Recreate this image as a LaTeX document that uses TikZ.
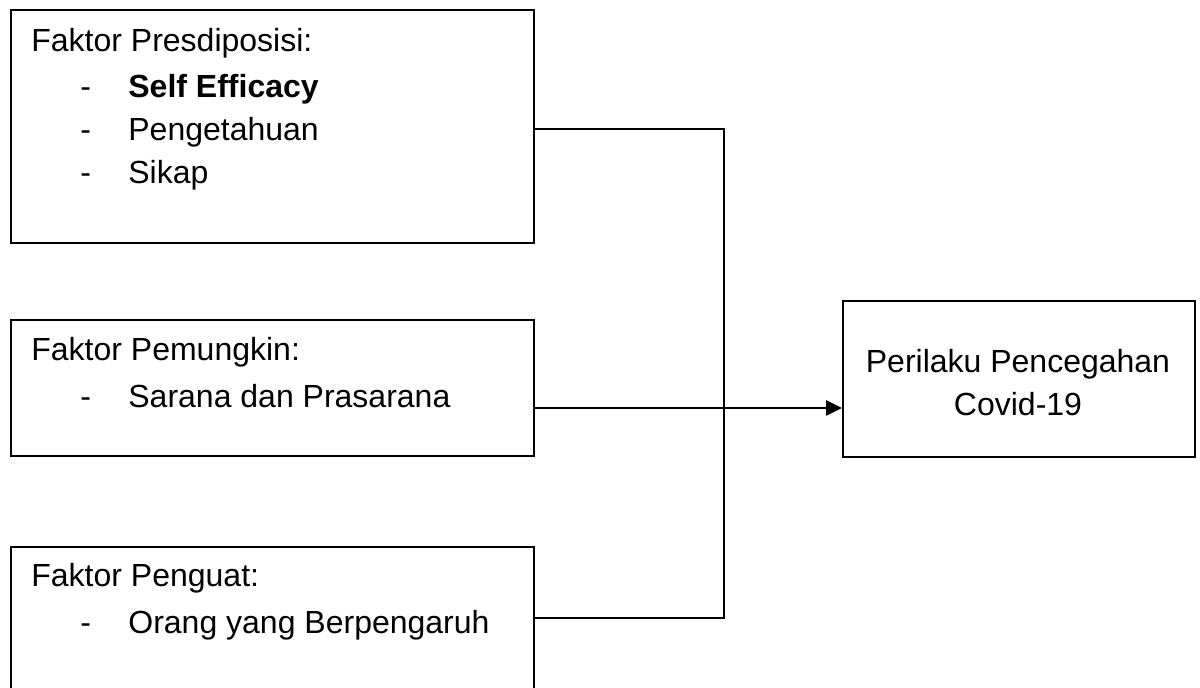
\documentclass[tikz,border=0pt]{standalone}
\usepackage{fontspec}
\setmainfont{Liberation Sans}
\usetikzlibrary{positioning}
\usetikzlibrary{arrows.meta}

\tikzset{
  faktorbox/.style={draw=black,line width=1pt,rectangle,inner sep=0pt,anchor=north west},
  boxtext/.style={inner sep=0pt,align=left,anchor=north west,font=\fontsize{16}{21.5}\selectfont},
  link/.style={draw=black,line width=1pt},
  flow/.style={draw=black,line width=1.3pt,-{Triangle[length=8pt,width=7.5pt]}}
}
\newcommand{\butir}[1]{\hspace*{24.5pt}\makebox[24pt][l]{-}#1}

\begin{document}
\begin{tikzpicture}[x=0.5pt,y=-0.5pt]
\useasboundingbox (0,0) rectangle (1200,688);
\clip (0,0) rectangle (1200,688);

% kotak faktor
\node[faktorbox,minimum width=261.6pt,minimum height=116.5pt] (presdisposisi) at (9.5,9.5) {};
\node[faktorbox,minimum width=261.6pt,minimum height=68.25pt] (pemungkin) at (9.5,319) {};
\node[faktorbox,minimum width=261.6pt,minimum height=90pt] (penguat) at (9.5,546) {};
\node[faktorbox,minimum width=176pt,minimum height=77.85pt] (perilaku) at (842,300) {};

% isi kotak
\node[boxtext] (presdisposisiT) at (31,27.5)
  {Faktor Presdiposisi:\\[1.7pt] \butir{\textbf{Self Efficacy}}\\ \butir{Pengetahuan}\\ \butir{Sikap}};
\node[boxtext] (pemungkinT) at (31,336.5)
  {Faktor Pemungkin:\\[2pt] \butir{Sarana dan Prasarana}};
\node[boxtext] (penguatT) at (31,562.5)
  {Faktor Penguat:\\[2pt] \butir{Orang yang Berpengaruh}};
\node[boxtext,align=center,anchor=north] (perilakuT) at (1018,349.3)
  {Perilaku Pencegahan\\Covid-19};

% garis penghubung
\coordinate (atas) at (724,129);
\coordinate (bawah) at (724,618);
\coordinate (masuk) at (842,408);
\draw[link] (presdisposisi.east |- atas) -- (atas) -- (bawah) -- (penguat.east |- bawah);
\draw[flow] (pemungkin.east |- masuk) -- (perilaku.west |- masuk);

\end{tikzpicture}
\end{document}
